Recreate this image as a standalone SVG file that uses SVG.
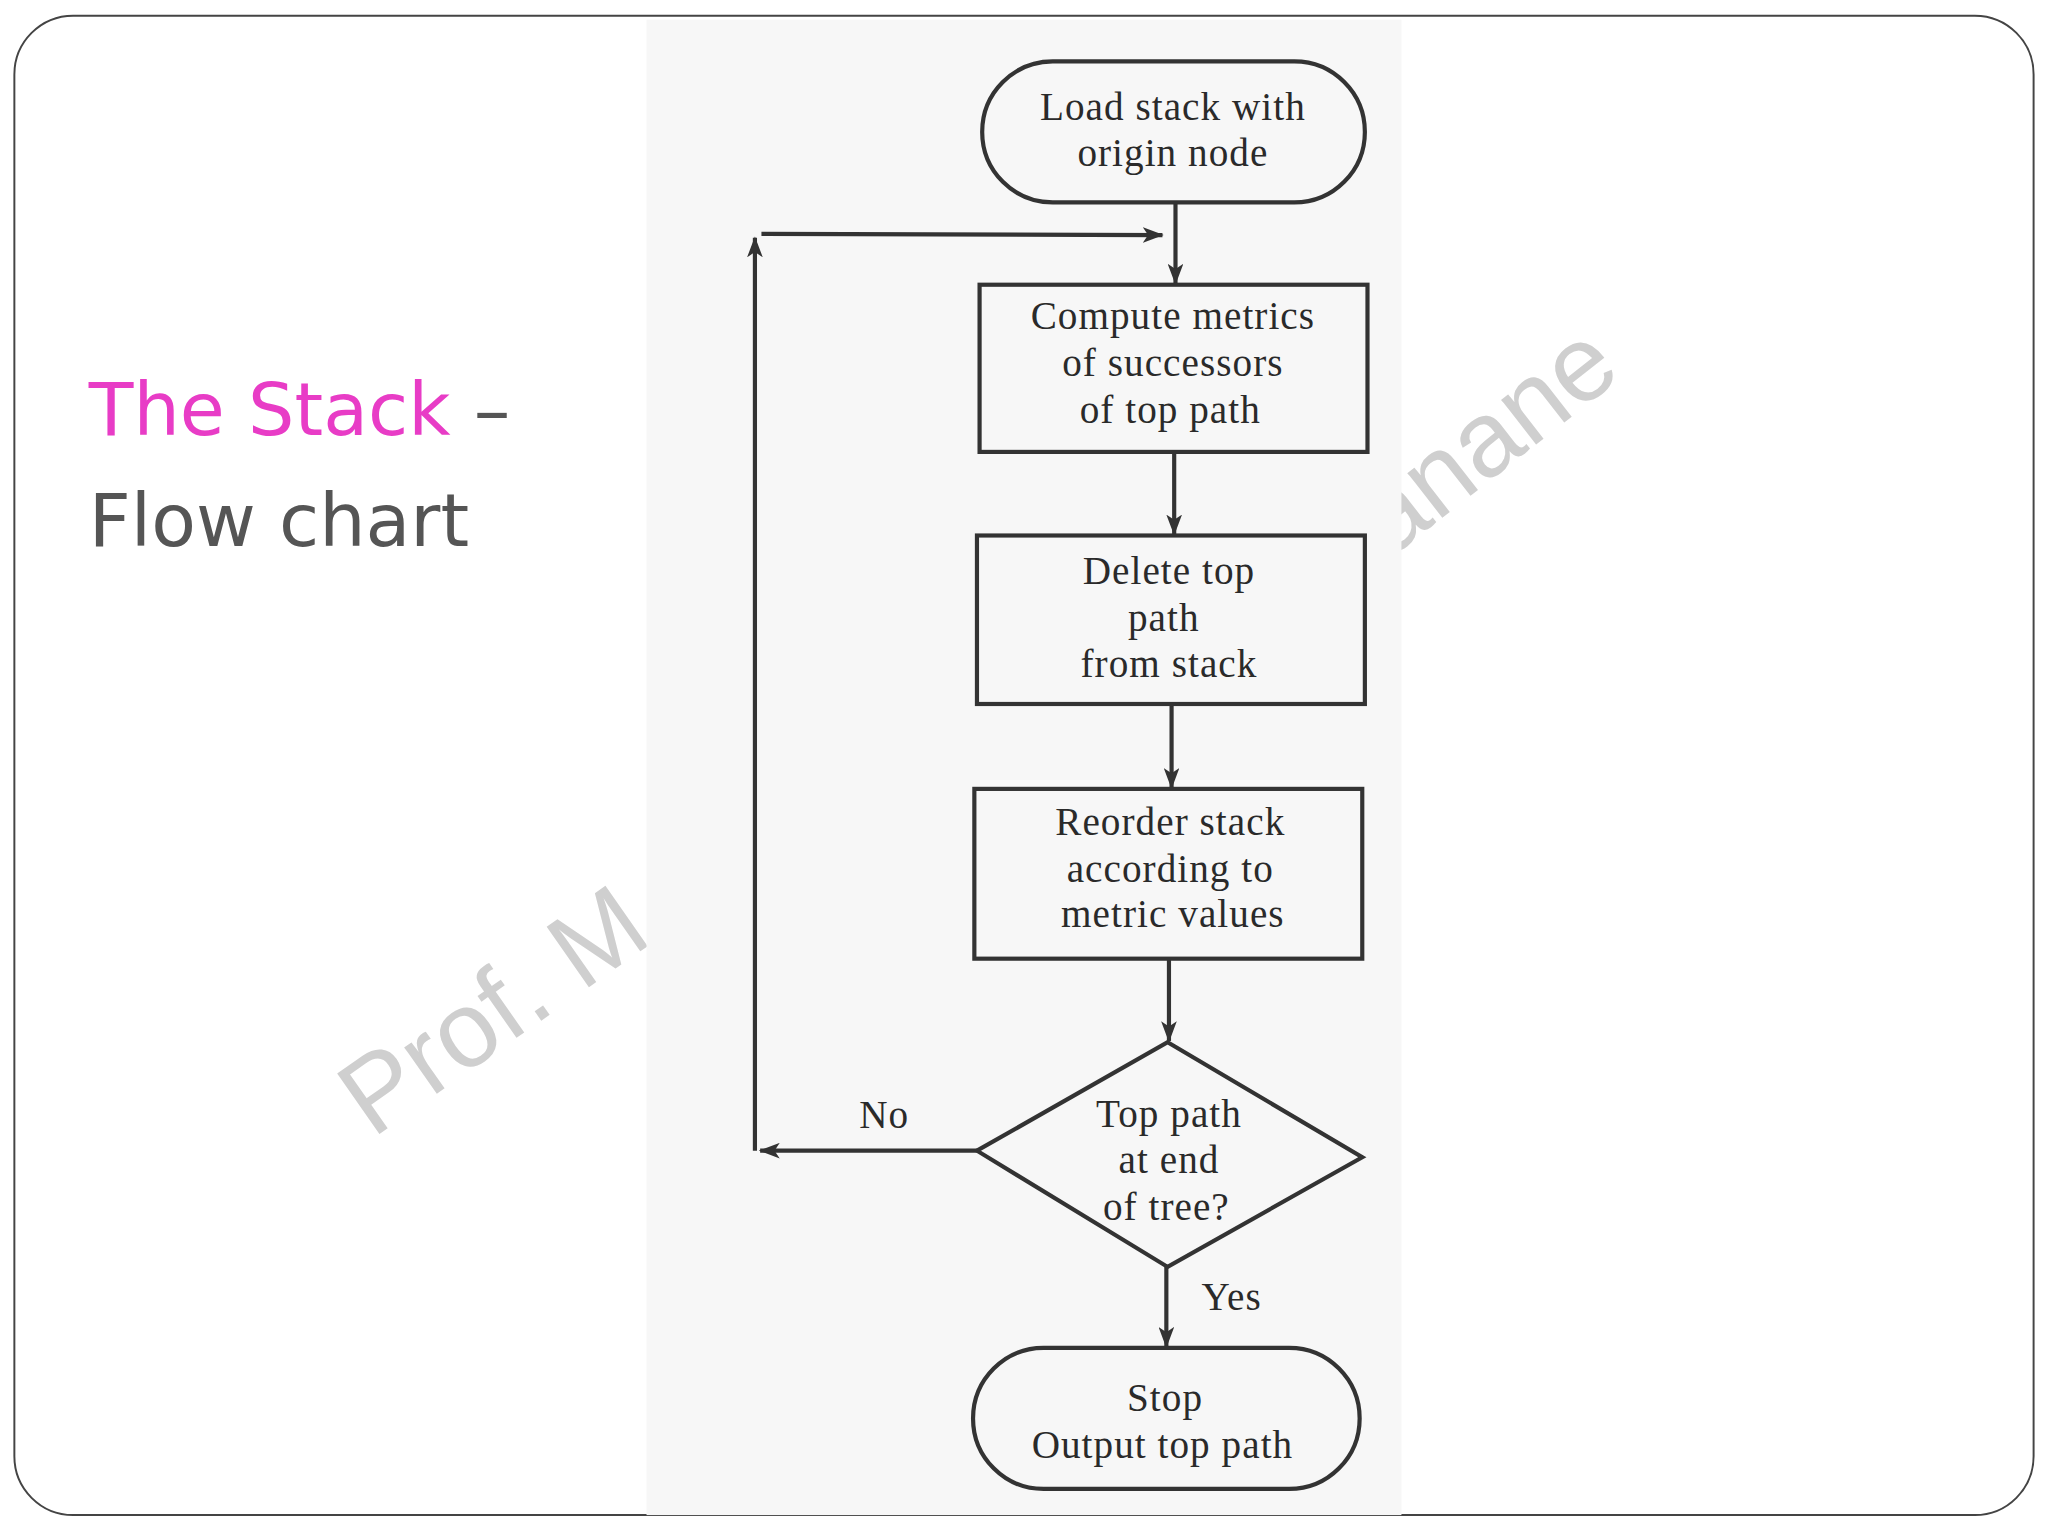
<svg xmlns="http://www.w3.org/2000/svg" width="2048" height="1536" viewBox="0 0 2048 1536">
<defs>
<style>
.t{font-family:"Liberation Serif","DejaVu Serif",serif;font-size:30px;letter-spacing:0.8px;fill:#2a2a2a;text-anchor:middle}
.s{fill:none;stroke:#333;stroke-width:3.2}
.c{fill:none;stroke:#333;stroke-width:3.2}
.wm{font-family:"Liberation Sans",Arial,sans-serif;font-size:82px;fill:#cfcfcf}
</style>
<marker id="a" viewBox="0 0 16 12" refX="15" refY="6" markerWidth="16" markerHeight="12" markerUnits="userSpaceOnUse" orient="auto"><path d="M0,0 L16,6 L0,12 L4,6 z" fill="#333"/></marker>
</defs>
<rect width="2048" height="1536" fill="#fff"/>
<g transform="scale(1.3061)">
<rect x="11" y="12" width="1546" height="1148" rx="45" fill="#fff" stroke="#444" stroke-width="1.5"/>
<text class="wm" transform="translate(285,872) rotate(-35)">Prof. M</text>
<text class="wm" transform="translate(1010,470) rotate(-38)">Manane</text>
<rect x="495" y="15" width="578" height="1145" fill="#f7f7f7"/>
<text x="68" y="333" font-family="'Comic Sans MS','DejaVu Sans',sans-serif" font-size="56" fill="#e83cc6">The Stack <tspan fill="#555">–</tspan></text>
<text x="68" y="418" font-family="'Comic Sans MS','DejaVu Sans',sans-serif" font-size="56" fill="#555">Flow chart</text>
<g id="connectors">
<line class="c" x1="900" y1="155" x2="900" y2="217" marker-end="url(#a)"/>
<line class="c" x1="899" y1="346" x2="899" y2="409" marker-end="url(#a)"/>
<line class="c" x1="897" y1="539" x2="897" y2="603" marker-end="url(#a)"/>
<line class="c" x1="895" y1="734" x2="895" y2="797" marker-end="url(#a)"/>
<line class="c" x1="893" y1="970" x2="893" y2="1031" marker-end="url(#a)"/>
<line class="c" x1="748" y1="881" x2="582" y2="881" marker-end="url(#a)"/>
<line class="c" x1="578" y1="881" x2="578" y2="182" marker-end="url(#a)"/>
<line class="c" x1="583" y1="179" x2="890" y2="180" marker-end="url(#a)"/>
<text class="t" x="677" y="864">No</text>
<text class="t" x="943" y="1003">Yes</text>
</g>
<g id="n1"><rect class="s" x="752" y="47" width="293" height="108" rx="54" fill="none"/><text class="t" x="898" y="92">Load stack with</text><text class="t" x="898" y="127">origin node</text></g>
<g id="n2"><rect class="s" x="750" y="218" width="297" height="128"/><text class="t" x="898" y="252">Compute metrics</text><text class="t" x="898" y="288">of successors</text><text class="t" x="896" y="324">of top path</text></g>
<g id="n3"><rect class="s" x="748" y="410" width="297" height="129"/><text class="t" x="895" y="447">Delete top</text><text class="t" x="891" y="483">path</text><text class="t" x="895" y="518">from stack</text></g>
<g id="n4"><rect class="s" x="746" y="604" width="297" height="130"/><text class="t" x="896" y="639">Reorder stack</text><text class="t" x="896" y="675">according to</text><text class="t" x="898" y="710">metric values</text></g>
<g id="n5"><polygon class="s" points="894,798 1043,886 894,970 748,881"/><text class="t" x="895" y="863">Top path</text><text class="t" x="895" y="898">at end</text><text class="t" x="893" y="934">of tree?</text></g>
<g id="n6"><rect class="s" x="745" y="1032" width="296" height="108" rx="54"/><text class="t" x="892" y="1080">Stop</text><text class="t" x="890" y="1116">Output top path</text></g>
</g>
</svg>
